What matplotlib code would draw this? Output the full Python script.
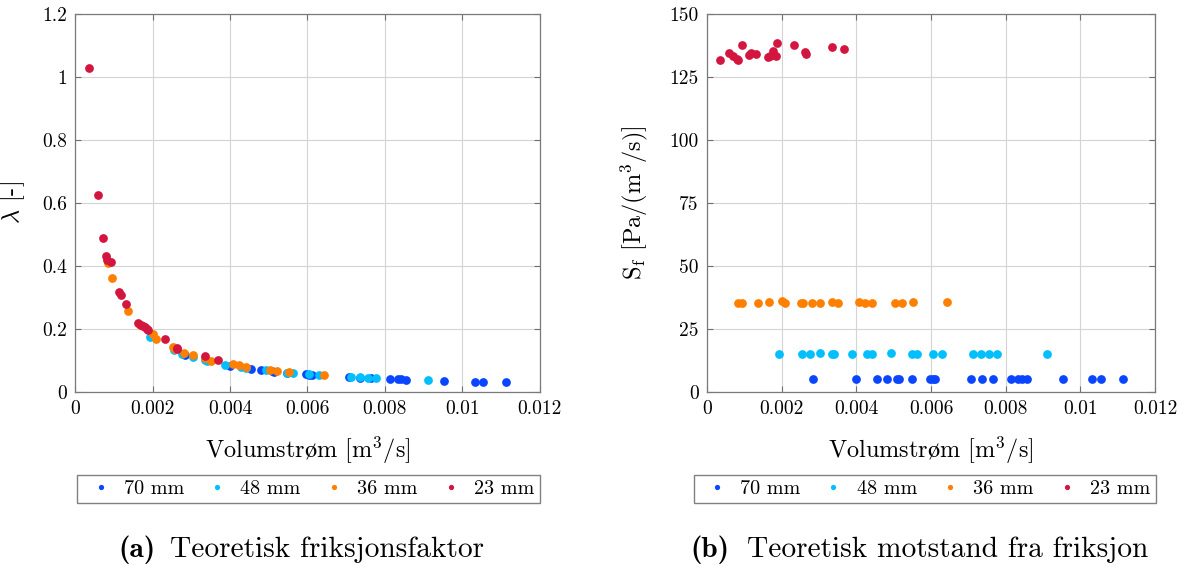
import numpy as np
import matplotlib
matplotlib.use('Agg')
import matplotlib.pyplot as plt
from matplotlib.ticker import FuncFormatter

plt.rcParams['font.family'] = ['cmr10', 'DejaVu Serif']
plt.rcParams['mathtext.fontset'] = 'cm'
plt.rcParams['axes.formatter.use_mathtext'] = True
plt.rcParams['axes.unicode_minus'] = False

# Volumstrøm [m3/s], friksjonsfaktor [-] og Sf [Pa/(m3/s)] per rørdiameter
q_70 = [0.00283, 0.00400, 0.00455, 0.00481, 0.00508, 0.00513, 0.00548, 0.00596,
        0.00605, 0.00611, 0.00707, 0.00737, 0.00765, 0.00814, 0.00834, 0.00843,
        0.00856, 0.00954, 0.01032, 0.01055, 0.01114]
lam_70 = [0.116, 0.082, 0.072, 0.068, 0.065, 0.064, 0.060, 0.055, 0.054, 0.054,
          0.046, 0.044, 0.043, 0.040, 0.039, 0.039, 0.038, 0.034, 0.032, 0.031, 0.030]
sf_70 = [5.0] * len(q_70)

q_48 = [0.00194, 0.00254, 0.00276, 0.00303, 0.00334, 0.00341, 0.00388, 0.00428,
        0.00441, 0.00492, 0.00548, 0.00562, 0.00605, 0.00630, 0.00713, 0.00735,
        0.00756, 0.00778, 0.00912]
lam_48 = [0.173, 0.132, 0.121, 0.111, 0.100, 0.098, 0.086, 0.078, 0.076, 0.068,
          0.061, 0.060, 0.055, 0.053, 0.047, 0.046, 0.044, 0.043, 0.037]
sf_48 = [15.0, 15.0, 15.0, 15.2, 15.0, 15.0, 15.0, 15.0, 15.0, 15.2,
         15.0, 15.0, 15.0, 15.0, 15.0, 15.0, 15.0, 15.0, 15.0]

q_36 = [0.00084, 0.00095, 0.00136, 0.00166, 0.00201, 0.00209, 0.00252, 0.00258,
        0.00282, 0.00304, 0.00335, 0.00351, 0.00407, 0.00423, 0.00441, 0.00503,
        0.00521, 0.00553, 0.00642]
lam_36 = [0.410, 0.363, 0.257, 0.212, 0.183, 0.169, 0.141, 0.137, 0.124, 0.117,
          0.106, 0.098, 0.088, 0.084, 0.079, 0.069, 0.066, 0.063, 0.054]
sf_36 = [35.1, 35.1, 35.1, 35.6, 35.9, 35.1, 35.3, 35.2, 35.2, 35.2,
         35.5, 35.2, 35.6, 35.2, 35.2, 35.3, 35.2, 35.5, 35.5]

q_23 = [0.00034, 0.00058, 0.00071, 0.00080, 0.00082, 0.00093, 0.00113, 0.00118,
        0.00130, 0.00163, 0.00170, 0.00176, 0.00180, 0.00185, 0.00188, 0.00232,
        0.00263, 0.00264, 0.00335, 0.00368]
lam_23 = [1.030, 0.624, 0.490, 0.430, 0.420, 0.412, 0.316, 0.309, 0.278, 0.218,
          0.212, 0.209, 0.205, 0.198, 0.196, 0.166, 0.140, 0.136, 0.113, 0.101]
sf_23 = [131.9, 134.7, 133.6, 132.3, 131.8, 137.7, 133.8, 134.7, 134.3, 133.1,
         133.5, 135.4, 134.0, 133.3, 138.5, 137.6, 135.0, 134.3, 136.9, 136.4]

labels = ['70 mm', '48 mm', '36 mm', '23 mm']
colors = ['#0a46ff', '#00bfff', '#ff8000', '#d2163f']

fig = plt.figure(figsize=(11.91, 5.74), dpi=100)
ax1 = fig.add_axes([0.0633, 0.3176, 0.3897, 0.6575])
ax2 = fig.add_axes([0.5936, 0.3176, 0.3762, 0.6575])

series_l = [(q_70, lam_70), (q_48, lam_48), (q_36, lam_36), (q_23, lam_23)]
series_r = [(q_70, sf_70), (q_48, sf_48), (q_36, sf_36), (q_23, sf_23)]

fmt = FuncFormatter(lambda v, p: '%g' % round(v, 6))

for ax, series in [(ax1, series_l), (ax2, series_r)]:
    for (x, y), c, lab in zip(series, colors, labels):
        ax.plot(x, y, 'o', color=c, ms=6.3, mec='none', label=lab)
    ax.set_xlim(0, 0.012)
    ax.set_xticks(np.arange(0, 0.0121, 0.002))
    ax.xaxis.set_major_formatter(fmt)
    ax.yaxis.set_major_formatter(fmt)
    ax.grid(True, color='#d4d4d4', lw=0.8)
    ax.set_axisbelow(True)
    ax.tick_params(direction='in', top=True, right=True, length=4,
                   labelsize=14, color='#6e6e6e', pad=6)
    for s in ax.spines.values():
        s.set_color('#7a7a7a')
        s.set_linewidth(0.9)
    ax.set_xlabel('Volumstr$\\mathrm{ø}$m [m$^3$/s]', fontsize=17.5)
    ax.xaxis.set_label_coords(0.5, -0.113)

ax1.set_ylim(0, 1.2)
ax1.set_yticks(np.arange(0, 1.21, 0.2))
ax1.set_ylabel(r'$\lambda$ [-]', fontsize=17.5)
ax1.yaxis.set_label_coords(-0.105, 0.5)

ax2.set_ylim(0, 150)
ax2.set_yticks(np.arange(0, 151, 25))
ax2.set_ylabel(r'S$_\mathrm{f}$ [Pa/(m$^3$/s)]', fontsize=17.5)
ax2.yaxis.set_label_coords(-0.127, 0.5)

for ax, cx in [(ax1, 0.259), (ax2, 0.7763)]:
    h, l = ax.get_legend_handles_labels()
    fig.legend(h, l, loc='center', bbox_to_anchor=(cx, 0.1475), ncol=4,
               fontsize=14.5, frameon=True, fancybox=False, framealpha=1,
               edgecolor='#808080', markerscale=0.6, handletextpad=0.25,
               columnspacing=0.75, borderpad=0.25, handlelength=1.8)

# bildetekster
fig.text(118 / 1191, 0.042, '(a)', family='cmb10', fontsize=21.2, va='center')
fig.text(170 / 1191, 0.042, 'Teoretisk friksjonsfaktor', fontsize=21.2, va='center')
fig.text(690 / 1191, 0.042, '(b)', family='cmb10', fontsize=21.2, va='center')
fig.text(747 / 1191, 0.042, 'Teoretisk motstand fra friksjon', fontsize=21.2, va='center')

fig.savefig('out.png', dpi=100)
